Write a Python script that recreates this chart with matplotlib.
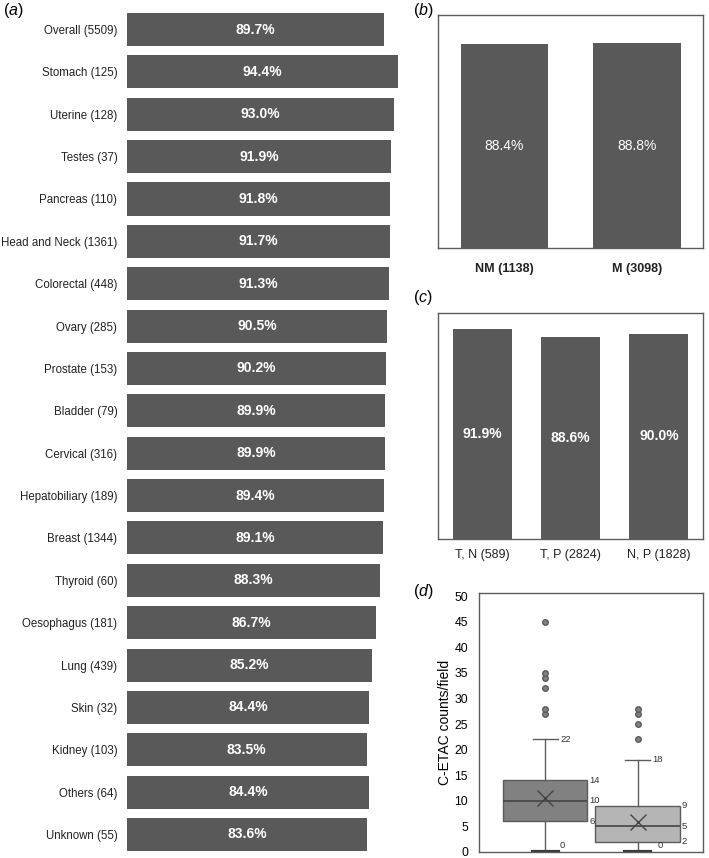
import matplotlib.pyplot as plt

plt.rcParams['font.family'] = ['Liberation Sans', 'DejaVu Sans']
plt.rcParams['mathtext.fontset'] = 'custom'
plt.rcParams['mathtext.rm'] = 'Liberation Sans'
plt.rcParams['mathtext.it'] = 'Liberation Sans:italic'

# (a) detection rate by cancer site
sites = ['Overall (5509)', 'Stomach (125)', 'Uterine (128)', 'Testes (37)',
         'Pancreas (110)', 'Head and Neck (1361)', 'Colorectal (448)',
         'Ovary (285)', 'Prostate (153)', 'Bladder (79)', 'Cervical (316)',
         'Hepatobiliary (189)', 'Breast (1344)', 'Thyroid (60)',
         'Oesophagus (181)', 'Lung (439)', 'Skin (32)', 'Kidney (103)',
         'Others (64)', 'Unknown (55)']
site_pct = [89.7, 94.4, 93.0, 91.9, 91.8, 91.7, 91.3, 90.5, 90.2, 89.9,
            89.9, 89.4, 89.1, 88.3, 86.7, 85.2, 84.4, 83.5, 84.4, 83.6]

# (b) non-metastatic vs metastatic
stage_labels = ['NM (1138)', 'M (3098)']
stage_pct = [88.4, 88.8]

# (c) pairs
pair_labels = ['T, N (589)', 'T, P (2824)', 'N, P (1828)']
pair_pct = [91.9, 88.6, 90.0]

# (d) C-ETAC counts/field, box stats
box_low = [0, 0]
box_q1 = [6, 2]
box_med = [10, 5]
box_q3 = [14, 9]
box_high = [22, 18]
box_mean = [10.5, 5.9]
box_out = [[27, 28, 32, 34, 35, 45], [22, 25, 27, 28]]

bar_color = '#595959'
line_color = '#5c5c5c'

fig = plt.figure(figsize=(7.09, 8.58), dpi=100)

# ---- (a)
ax1 = fig.add_axes([0.1791, 0.0027, 0.4048, 0.9876])
ypos = list(range(len(sites)))
ax1.barh(ypos, site_pct, height=0.78, color=bar_color)
ax1.set_xlim(0, 100)
ax1.set_ylim(len(sites) - 0.5, -0.5)
ax1.set_yticks(ypos)
ax1.set_yticklabels(sites, fontsize=8.3, color='#222222')
ax1.tick_params(axis='y', length=0, pad=7)
ax1.set_xticks([])
for s in ax1.spines.values():
    s.set_visible(False)
for i, v in enumerate(site_pct):
    ax1.text(v / 2, i, '%.1f%%' % v, color='white', fontweight='bold',
             ha='center', va='center', fontsize=10)

# ---- (b)
ax2 = fig.add_axes([0.6178, 0.7110, 0.3738, 0.2716])
ax2.bar(range(len(stage_pct)), stage_pct, width=0.66, color=bar_color)
ax2.set_xlim(-0.5, len(stage_pct) - 0.5)
ax2.set_ylim(0, 101)
ax2.set_yticks([])
ax2.set_xticks(range(len(stage_pct)))
ax2.set_xticklabels(stage_labels, fontsize=9, fontweight='bold', color='#222222')
ax2.tick_params(axis='x', length=0, pad=11)
for i, v in enumerate(stage_pct):
    ax2.text(i, v / 2, '%.1f%%' % v, color='white', ha='center', va='center',
             fontsize=10)

# ---- (c)
ax3 = fig.add_axes([0.6178, 0.3718, 0.3738, 0.2634])
ax3.bar(range(len(pair_pct)), pair_pct, width=0.67, color=bar_color)
ax3.set_xlim(-0.5, len(pair_pct) - 0.5)
ax3.set_ylim(0, 99)
ax3.set_yticks([])
ax3.set_xticks(range(len(pair_pct)))
ax3.set_xticklabels(pair_labels, fontsize=9, color='#222222')
ax3.tick_params(axis='x', length=0, pad=7)
for i, v in enumerate(pair_pct):
    ax3.text(i, v / 2, '%.1f%%' % v, color='white', fontweight='bold',
             ha='center', va='center', fontsize=10)

# ---- (d)
ax4 = fig.add_axes([0.6756, 0.0070, 0.3159, 0.3018])
stats = []
for k in range(2):
    stats.append({'whislo': box_low[k], 'q1': box_q1[k], 'med': box_med[k],
                  'q3': box_q3[k], 'whishi': box_high[k], 'mean': box_mean[k],
                  'fliers': box_out[k]})
bp = ax4.bxp(stats, positions=[1, 2], widths=0.91, showmeans=True,
             patch_artist=True, capwidths=0.27,
             boxprops=dict(edgecolor=line_color, linewidth=1),
             whiskerprops=dict(color=line_color, linewidth=1),
             capprops=dict(color=line_color, linewidth=1),
             medianprops=dict(color='#444444', linewidth=1.2),
             meanprops=dict(marker='x', markersize=11, markeredgecolor='#444444',
                            markeredgewidth=1),
             flierprops=dict(marker='o', markersize=4, markerfacecolor='#808080',
                             markeredgecolor='#5c5c5c'))
for patch, fc in zip(bp['boxes'], ['#818181', '#b5b5b5']):
    patch.set_facecolor(fc)
# lower caps sit on the axis, drawn heavier
for cap in bp['caps'][0::2]:
    cap.set_linewidth(3)
    cap.set_color('#3a3a3a')
ax4.set_xlim(0.286, 2.708)
ax4.set_ylim(0, 50.6)
ax4.set_yticks(range(0, 51, 5))
ax4.tick_params(axis='y', length=0, pad=8, labelsize=8.8)
ax4.set_xticks([])
ax4.set_ylabel('C-ETAC counts/field', fontsize=10)
ax4.yaxis.set_label_coords(-0.12, 0.5)

for k in range(2):
    x = k + 1
    ax4.annotate(str(box_high[k]), (x + 0.135, box_high[k]), xytext=(2, 0),
                 textcoords='offset points', fontsize=6.8, va='center', color='#333333')
    for v in [box_q3[k], box_med[k], box_q1[k]]:
        ax4.annotate(str(v), (x + 0.455, v), xytext=(1.5, 0),
                     textcoords='offset points', fontsize=6.8, va='center',
                     color='#333333')
    ax4.annotate(str(box_low[k]), (x + 0.16 + 0.06 * k, box_low[k]), xytext=(0, 5),
                 textcoords='offset points', fontsize=6.8, va='center', color='#333333')

for ax in [ax2, ax3, ax4]:
    for s in ax.spines.values():
        s.set_color(line_color)
        s.set_linewidth(1)

# panel letters
fig.text(3 / 709, 1 - 1 / 858, '($\\it{a}$)', fontsize=11.5, va='top')
fig.text(413 / 709, 1 - 1 / 858, '($\\it{b}$)', fontsize=11.5, va='top')
fig.text(413 / 709, 1 - 288 / 858, '($\\it{c}$)', fontsize=11.5, va='top')
fig.text(413 / 709, 1 - 582 / 858, '($\\it{d}$)', fontsize=11.5, va='top')

fig.savefig('out.png', dpi=100)
